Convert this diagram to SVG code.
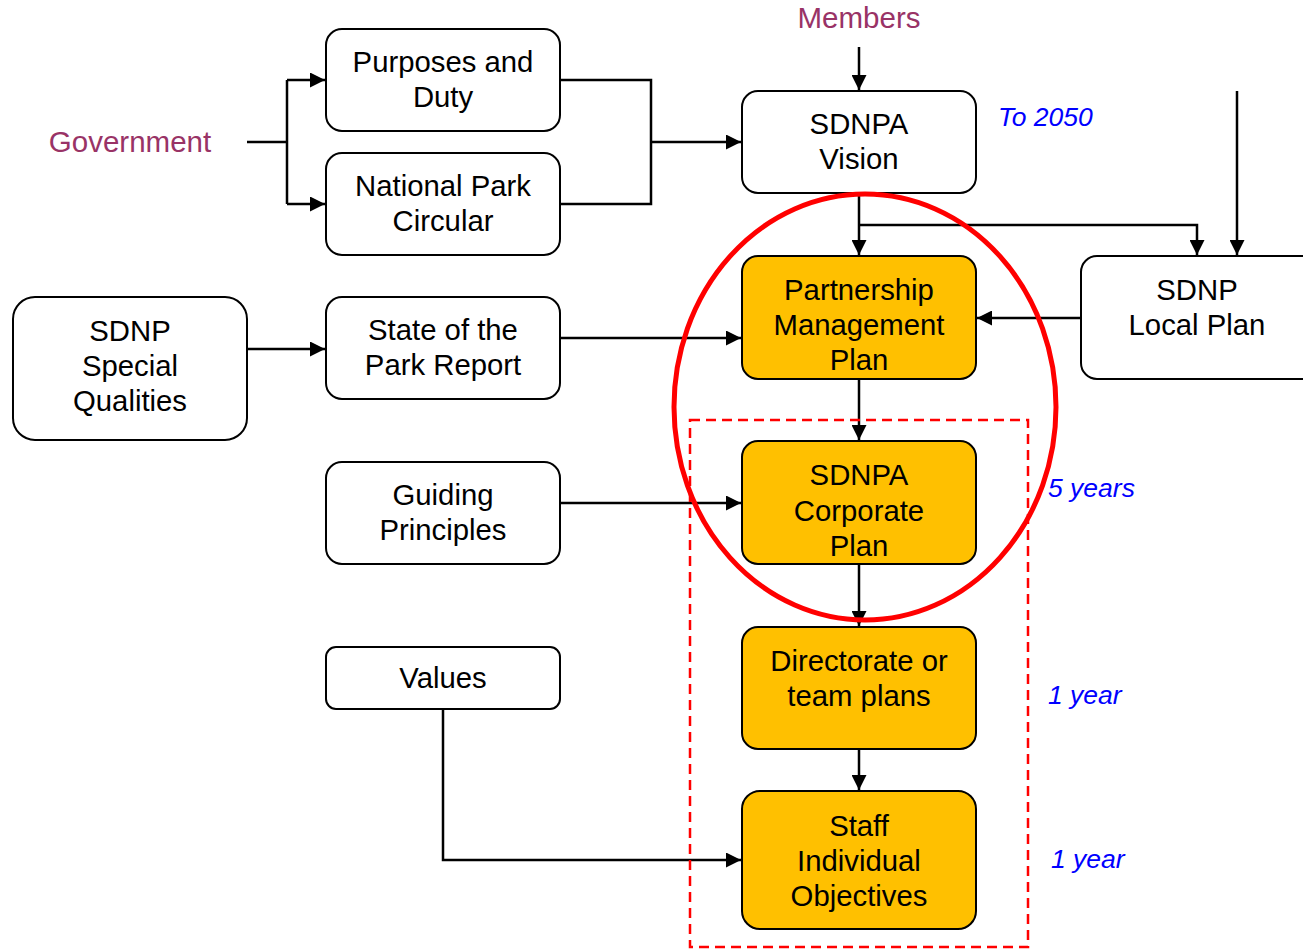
<svg xmlns="http://www.w3.org/2000/svg" width="1303" height="950" viewBox="0 0 1303 950">
<style>
.box{fill:#fff;stroke:#000;stroke-width:2}
.gold{fill:#FFC000;stroke:#000;stroke-width:2}
.t{font-family:"Liberation Sans",Arial,sans-serif;font-size:29.3px;fill:#000;text-anchor:middle}
.p{font-family:"Liberation Sans",Arial,sans-serif;font-size:29.5px;fill:#993366;text-anchor:middle}
.b{font-family:"Liberation Sans",Arial,sans-serif;font-size:26.5px;font-style:italic;fill:#0000FF}
.c{fill:none;stroke:#000;stroke-width:2.5}
</style>
<defs>
<marker id="a" viewBox="0 0 10 10" refX="10" refY="5" markerWidth="6" markerHeight="6" orient="auto" markerUnits="strokeWidth"><path d="M0,0 L10,5 L0,10 z" fill="#000"/></marker>
</defs>
<rect width="1303" height="950" fill="#fff"/>
<text class="p" x="130" y="152">Government</text>
<text class="p" x="859" y="28">Members</text>
<g id="connectors">
<path class="c" d="M247,142 H287 M287,80 V204"/>
<path class="c" d="M287,80 H325" marker-end="url(#a)"/>
<path class="c" d="M287,204 H325" marker-end="url(#a)"/>
<path class="c" d="M560,80 H651 V204 H560"/>
<path class="c" d="M651,142 H741" marker-end="url(#a)"/>
<path class="c" d="M859,47 V90" marker-end="url(#a)"/>
<path class="c" d="M859,193 V255" marker-end="url(#a)"/>
<path class="c" d="M859,225 H1197 V255" marker-end="url(#a)"/>
<path class="c" d="M1237,91 V255" marker-end="url(#a)"/>
<path class="c" d="M1081,318 H977" marker-end="url(#a)"/>
<path class="c" d="M247,349 H325" marker-end="url(#a)"/>
<path class="c" d="M560,338 H741" marker-end="url(#a)"/>
<path class="c" d="M859,379 V440" marker-end="url(#a)"/>
<path class="c" d="M560,503 H741" marker-end="url(#a)"/>
<path class="c" d="M859,564 V626" marker-end="url(#a)"/>
<path class="c" d="M859,749 V790" marker-end="url(#a)"/>
<path class="c" d="M443,709 V860 H741" marker-end="url(#a)"/>
</g>
<g id="purposes"><rect class="box" x="326" y="29" width="234" height="102" rx="16"/><text class="t" x="443" y="72">Purposes and</text><text class="t" x="443" y="107">Duty</text></g>
<g id="circular"><rect class="box" x="326" y="153" width="234" height="102" rx="16"/><text class="t" x="443" y="196">National Park</text><text class="t" x="443" y="231">Circular</text></g>
<g id="vision"><rect class="box" x="742" y="91" width="234" height="102" rx="16"/><text class="t" x="859" y="134">SDNPA</text><text class="t" x="859" y="169">Vision</text></g>
<g id="pmp"><rect class="gold" x="742" y="256" width="234" height="123" rx="16"/><text class="t" x="859" y="300">Partnership</text><text class="t" x="859" y="335">Management</text><text class="t" x="859" y="370">Plan</text></g>
<g id="localplan"><rect class="box" x="1081" y="256" width="240" height="123" rx="16"/><text class="t" x="1197" y="300">SDNP</text><text class="t" x="1197" y="335">Local Plan</text></g>
<g id="special"><rect class="box" x="13" y="297" width="234" height="143" rx="22"/><text class="t" x="130" y="341">SDNP</text><text class="t" x="130" y="376">Special</text><text class="t" x="130" y="411">Qualities</text></g>
<g id="state"><rect class="box" x="326" y="297" width="234" height="102" rx="16"/><text class="t" x="443" y="340">State of the</text><text class="t" x="443" y="375">Park Report</text></g>
<g id="guiding"><rect class="box" x="326" y="462" width="234" height="102" rx="16"/><text class="t" x="443" y="505">Guiding</text><text class="t" x="443" y="540">Principles</text></g>
<g id="corporate"><rect class="gold" x="742" y="441" width="234" height="123" rx="16"/><text class="t" x="859" y="485">SDNPA</text><text class="t" x="859" y="521">Corporate</text><text class="t" x="859" y="556">Plan</text></g>
<g id="values"><rect class="box" x="326" y="647" width="234" height="62" rx="10"/><text class="t" x="443" y="688">Values</text></g>
<g id="directorate"><rect class="gold" x="742" y="627" width="234" height="122" rx="16"/><text class="t" x="859" y="671">Directorate or</text><text class="t" x="859" y="706">team plans</text></g>
<g id="staff"><rect class="gold" x="742" y="791" width="234" height="138" rx="18"/><text class="t" x="859" y="836">Staff</text><text class="t" x="859" y="871">Individual</text><text class="t" x="859" y="906">Objectives</text></g>
<text class="b" x="998" y="126">To 2050</text>
<text class="b" x="1048" y="497">5 years</text>
<text class="b" x="1048" y="704">1 year</text>
<text class="b" x="1051" y="868">1 year</text>
<rect x="690" y="420" width="338" height="527" fill="none" stroke="#FF0000" stroke-width="2.5" stroke-dasharray="10,6"/>
<ellipse cx="865" cy="407" rx="191" ry="213" fill="none" stroke="#FF0000" stroke-width="5"/>
</svg>
